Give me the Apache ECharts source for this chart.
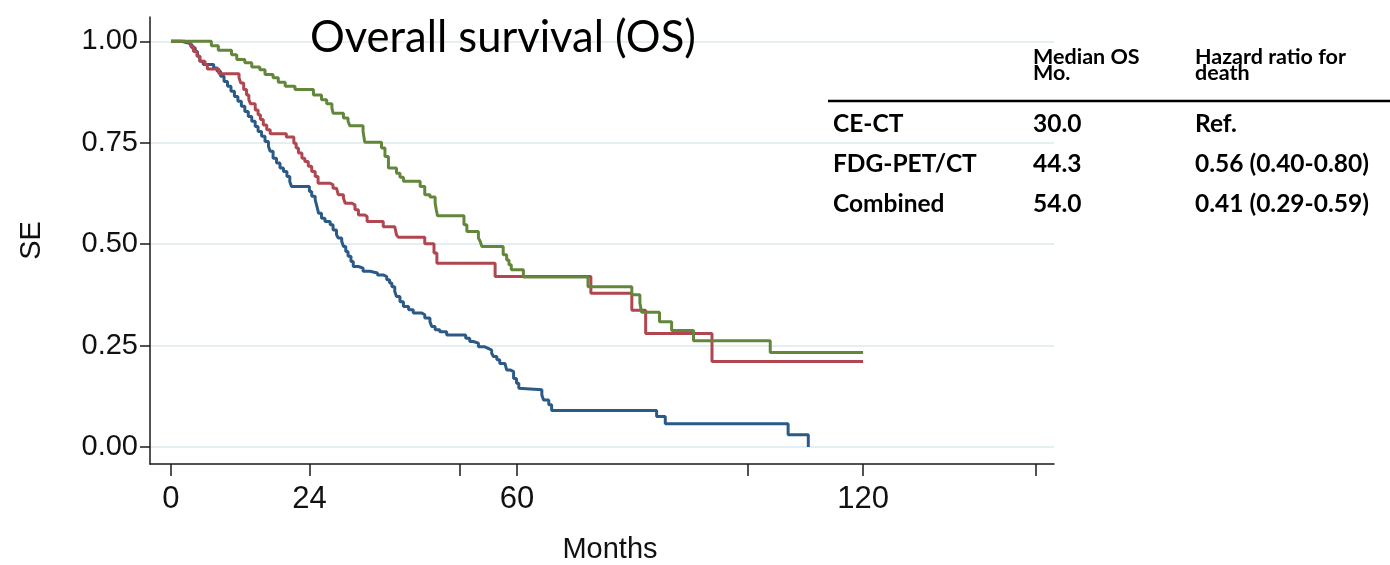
<!DOCTYPE html>
<html><head><meta charset="utf-8">
<script src="https://cdn.jsdelivr.net/npm/echarts@6/dist/echarts.min.js"></script>
<style>html,body{margin:0;padding:0;background:#fff}#c{width:1390px;height:565px}</style>
</head><body><div id="c"></div>
<script>
// ---- data ----
const xTicks = [0, 24, 50, 60, 100, 120, 150];
const xLabels = [0, 24, 60, 120];
const yTicks = [0, 0.25, 0.5, 0.75, 1];
const seriesNames = ['CE-CT', 'FDG-PET/CT', 'Combined'];

const ceCT = [[0,1.000],[1.8,0.996],[3.0,0.992],[3.6,0.984],[4.2,0.975],[4.6,0.963],[5.0,0.951],[5.6,0.943],[7.4,0.934],[8.0,0.926],[8.6,0.914],[9.2,0.901],[9.8,0.889],[10.4,0.877],[11.0,0.864],[11.6,0.852],[12.2,0.840],[12.8,0.827],[13.4,0.815],[14.0,0.803],[14.6,0.790],[15.1,0.778],[15.7,0.766],[16.3,0.753],[16.9,0.741],[17.2,0.729],[17.7,0.712],[18.3,0.700],[18.9,0.688],[19.5,0.679],[20.1,0.667],[20.6,0.654],[20.9,0.642],[24.0,0.630],[24.4,0.618],[25.0,0.609],[25.3,0.593],[25.6,0.576],[26.1,0.564],[26.7,0.556],[27.6,0.548],[28.1,0.535],[28.7,0.523],[29.0,0.515],[29.6,0.507],[29.9,0.494],[30.3,0.482],[30.7,0.470],[31.2,0.457],[31.6,0.445],[32.5,0.441],[33.3,0.433],[34.5,0.429],[35.8,0.424],[36.8,0.420],[37.4,0.412],[37.9,0.404],[38.3,0.395],[38.8,0.383],[39.1,0.371],[39.7,0.358],[40.3,0.346],[41.2,0.338],[42.0,0.330],[43.5,0.326],[44.0,0.318],[44.9,0.309],[45.2,0.297],[45.8,0.289],[46.6,0.284],[47.8,0.276],[51.1,0.268],[51.8,0.260],[52.4,0.256],[53.3,0.247],[54.4,0.243],[55.0,0.239],[55.6,0.231],[55.9,0.223],[56.5,0.215],[57.0,0.206],[57.9,0.202],[58.2,0.190],[58.8,0.186],[59.4,0.169],[59.9,0.157],[60.3,0.145],[60.6,0.141],[64.3,0.128],[64.6,0.116],[65.5,0.104],[66.0,0.090],[84.2,0.075],[85.7,0.057],[107.0,0.030],[110.5,0.000]];

const fdgPetCT = [[0,1.000],[2.4,0.996],[3.4,0.988],[3.9,0.975],[4.5,0.963],[5.0,0.951],[5.9,0.943],[6.3,0.932],[8.3,0.920],[11.8,0.910],[12.1,0.897],[12.6,0.881],[13.1,0.868],[13.5,0.856],[13.8,0.846],[14.6,0.831],[15.1,0.819],[15.5,0.807],[16.0,0.794],[16.6,0.782],[17.2,0.772],[20.0,0.764],[21.3,0.749],[21.7,0.737],[22.1,0.725],[22.7,0.712],[23.2,0.704],[23.8,0.692],[24.4,0.679],[25.0,0.667],[25.5,0.650],[27.6,0.646],[28.1,0.638],[28.7,0.634],[29.0,0.622],[29.9,0.614],[30.2,0.601],[31.3,0.597],[31.9,0.585],[32.5,0.572],[33.6,0.568],[34.0,0.556],[36.8,0.543],[38.8,0.539],[39.1,0.523],[39.4,0.517],[44.0,0.501],[45.6,0.478],[46.1,0.453],[56.2,0.420],[72.8,0.379],[79.9,0.337],[82.3,0.280],[93.8,0.211],[120,0.211]];

const combined = [[0,1.000],[7.0,0.989],[8.2,0.978],[10.5,0.967],[11.4,0.955],[12.8,0.947],[14.0,0.937],[15.4,0.930],[16.3,0.918],[17.7,0.910],[18.6,0.899],[19.8,0.889],[21.5,0.881],[24.7,0.868],[26.1,0.856],[27.0,0.846],[27.9,0.836],[28.1,0.823],[29.9,0.811],[30.7,0.803],[31.0,0.792],[33.3,0.778],[33.6,0.751],[36.5,0.737],[37.1,0.716],[37.7,0.688],[39.1,0.675],[39.7,0.665],[40.3,0.655],[43.2,0.642],[44.0,0.622],[44.9,0.616],[45.8,0.601],[46.0,0.585],[46.2,0.570],[50.8,0.548],[51.3,0.531],[53.3,0.515],[53.6,0.507],[53.9,0.494],[57.6,0.474],[58.2,0.461],[58.6,0.449],[59.0,0.437],[61.1,0.419],[72.3,0.395],[79.9,0.375],[81.3,0.355],[81.6,0.332],[84.7,0.309],[86.8,0.287],[90.6,0.262],[103.9,0.233],[120,0.233]];

const titleText = 'Overall survival (OS)';
const xAxisName = 'Months';
const yAxisName = 'SE';
const tableHeader = ['', 'Median OS\nMo.', 'Hazard ratio for\ndeath'];
const tableRows = [
  ['CE-CT', '30.0', 'Ref.'],
  ['FDG-PET/CT', '44.3', '0.56 (0.40-0.80)'],
  ['Combined', '54.0', '0.41 (0.29-0.59)']
];

// ---- layout / style ----
const colors = ['#2b5a86', '#b0464f', '#62873a'];
const colX = [833, 1033, 1195];
const rowY = [124, 164, 204];
const axisFont = 'Liberation Sans, Arial, sans-serif';
const tableFont = 'Lato, "Noto Sans", sans-serif';

const chart = echarts.init(document.getElementById('c'), null, {renderer: 'canvas'});

const graphics = [];
graphics.push({type: 'text', left: 310, top: 16, z: 10,
  style: {text: titleText, font: '43.5px ' + tableFont, fill: '#000'}});
tableHeader.forEach((t, i) => {
  if (!t) return;
  graphics.push({type: 'text', x: colX[i], y: 65, z: 10,
    style: {text: t, fontFamily: tableFont, fontWeight: 'bold', fontSize: 21.5, lineHeight: 15.5,
      fill: '#000', verticalAlign: 'middle', align: 'left'}});
});
graphics.push({type: 'line', z: 10, shape: {x1: 828, y1: 101, x2: 1390, y2: 101},
  style: {stroke: '#000', lineWidth: 2.5}});
tableRows.forEach((row, r) => {
  row.forEach((t, c) => {
    graphics.push({type: 'text', x: colX[c], y: rowY[r], z: 10,
      style: {text: t, fontFamily: tableFont, fontWeight: 'bold', fontSize: 24.5,
        fill: '#000', verticalAlign: 'middle', align: 'left'}});
  });
});

const axisLineStyle = {color: '#1a1a1a', width: 1.5};

chart.setOption({
  animation: false,
  backgroundColor: '#fff',
  grid: {left: 150, right: 336, top: 17, bottom: 101, containLabel: false, outerBoundsMode: 'none'},
  xAxis: {
    type: 'value', min: -3.64, max: 153.1,
    name: xAxisName, nameLocation: 'middle', nameGap: 71,
    nameTextStyle: {fontFamily: axisFont, fontSize: 29, color: '#111', padding: [0, 0, 0, 16]},
    axisLine: {show: true, onZero: false, lineStyle: axisLineStyle},
    axisTick: {show: true, customValues: xTicks, length: 12, lineStyle: axisLineStyle},
    axisLabel: {customValues: xLabels, fontFamily: axisFont, fontSize: 31, color: '#111', margin: 20},
    splitLine: {show: false}
  },
  yAxis: {
    type: 'value', min: -0.042, max: 1.06,
    name: yAxisName, nameLocation: 'middle', nameGap: 104, nameRotate: 90,
    nameTextStyle: {fontFamily: axisFont, fontSize: 29, color: '#111'},
    axisLine: {show: true, onZero: false, lineStyle: axisLineStyle},
    axisTick: {show: true, customValues: yTicks, length: 10, lineStyle: axisLineStyle},
    axisLabel: {customValues: yTicks, fontFamily: axisFont, fontSize: 29, color: '#111', margin: 12,
      formatter: v => v.toFixed(2)},
    splitLine: {show: true, lineStyle: {color: '#e5eff1', width: 2}}
  },
  series: [ceCT, fdgPetCT, combined].map((d, i) => ({
    name: seriesNames[i], type: 'line', step: 'end', data: d,
    showSymbol: false, symbol: 'none',
    lineStyle: {color: colors[i], width: 3},
    itemStyle: {color: colors[i]},
    z: 3 + i
  })),
  graphic: graphics
});
</script>
</body></html>
